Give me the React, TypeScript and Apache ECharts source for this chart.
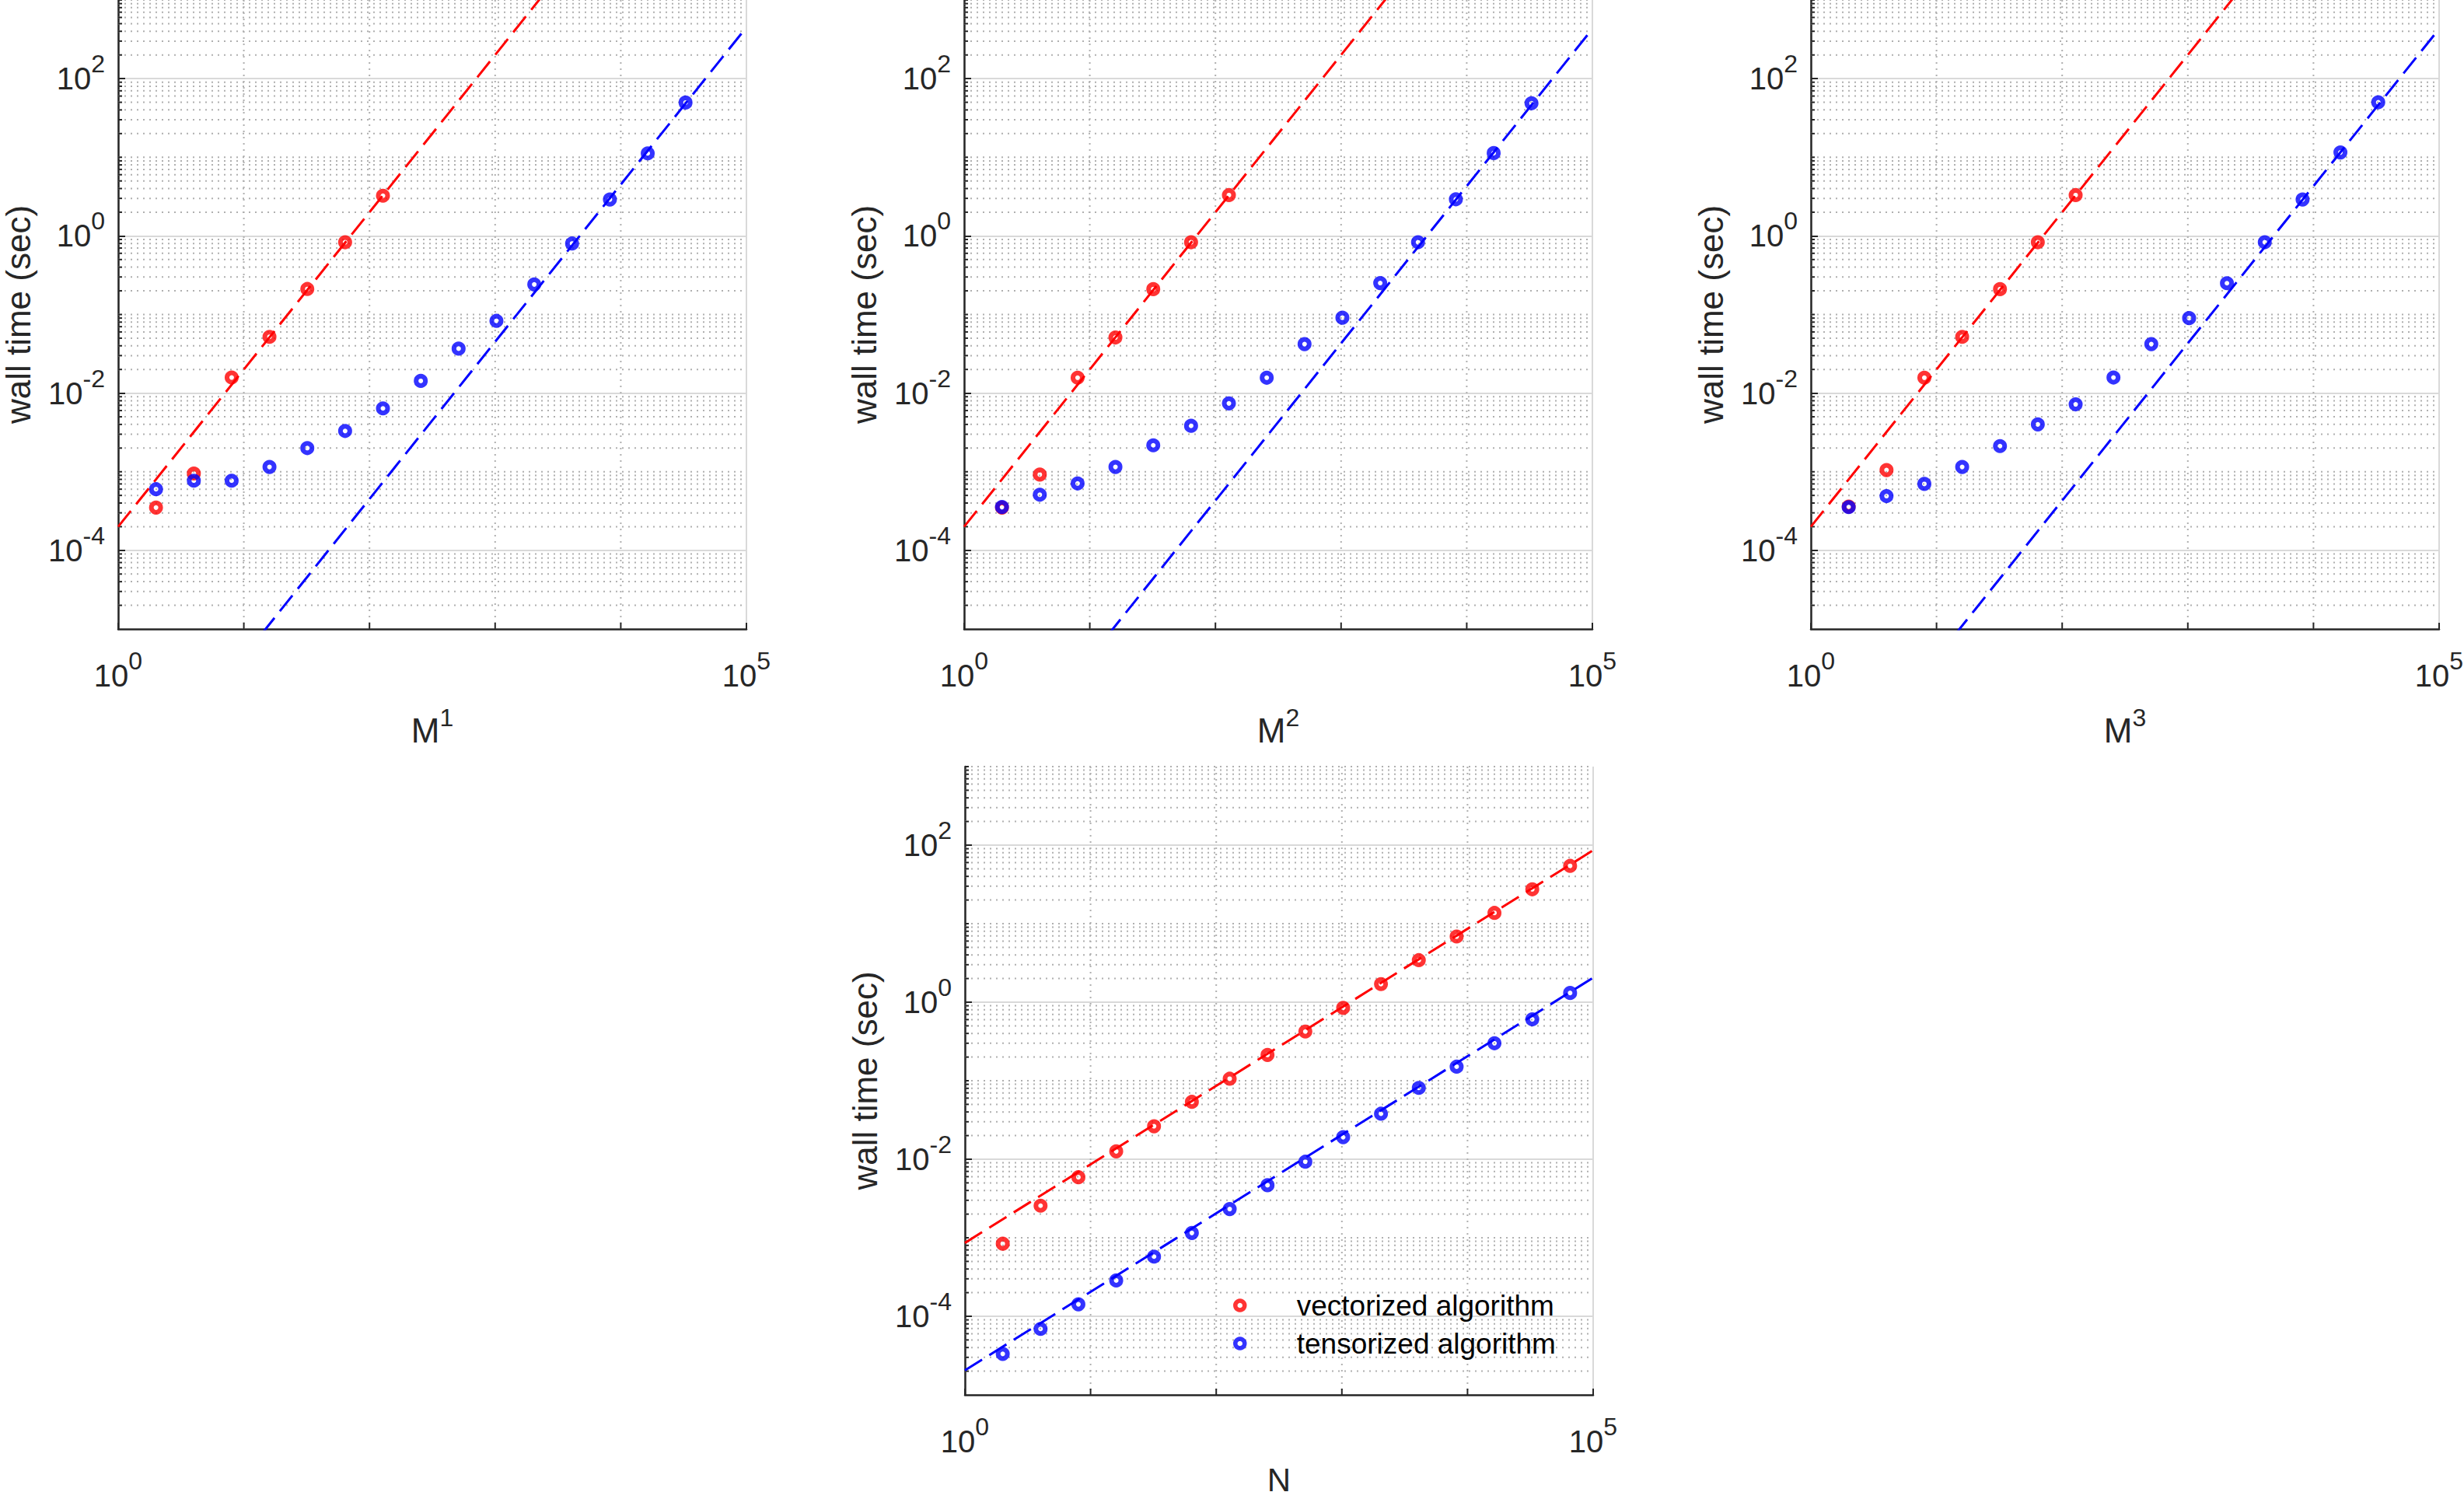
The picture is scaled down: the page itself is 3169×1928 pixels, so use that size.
import React, { useEffect, useRef } from "react";
import * as echarts from "echarts";

const W = 3169;
const H = 1928;

// ---------- data ----------
const xTop = [2, 4, 8, 16, 32, 64, 128, 256, 512, 1024, 2048, 4096, 8192, 16384, 32768];
const xBottom = [2, 4, 8, 16, 32, 64, 128, 256, 512, 1024, 2048, 4096, 8192, 16384, 32768, 65536];

const vecM1 = [3.5e-4, 9.5e-4, 0.0158, 0.052, 0.211, 0.83, 3.24];
const tenM1 = [6.0e-4, 7.7e-4, 7.7e-4, 1.15e-3, 2.0e-3, 3.3e-3, 6.4e-3, 0.0143, 0.0368, 0.083, 0.241, 0.8, 2.9, 11.2, 49.6];
const vecM2 = [3.5e-4, 9.2e-4, 0.0157, 0.051, 0.21, 0.83, 3.3];
const tenM2 = [3.56e-4, 5.1e-4, 7.1e-4, 1.15e-3, 2.17e-3, 3.84e-3, 7.4e-3, 0.0157, 0.042, 0.091, 0.251, 0.83, 2.92, 11.3, 48.6];
const vecM3 = [3.6e-4, 1.05e-3, 0.0157, 0.052, 0.21, 0.83, 3.3];
const tenM3 = [3.55e-4, 4.9e-4, 7.0e-4, 1.15e-3, 2.12e-3, 4.0e-3, 7.2e-3, 0.0158, 0.042, 0.09, 0.25, 0.83, 2.9, 11.5, 50];
const vecN = [8.4e-4, 2.56e-3, 5.9e-3, 0.0126, 0.0263, 0.0538, 0.106, 0.213, 0.423, 0.846, 1.7, 3.43, 6.86, 13.7, 27.4, 54.4];
const tenN = [3.32e-5, 6.9e-5, 1.42e-4, 2.86e-4, 5.75e-4, 1.15e-3, 2.32e-3, 4.67e-3, 9.3e-3, 0.0191, 0.038, 0.081, 0.151, 0.3, 0.605, 1.31];

// fitted dashed lines: values at x = 1 and x = 1e5
const fitX = [1, 100000];
const fitVecM1 = [2.0e-4, 2.0e6];
const fitTenM1 = [4.5e-8, 450];
const fitVecM2 = [2.0e-4, 2.0e6];
const fitTenM2 = [4.3e-8, 430];
const fitVecM3 = [2.0e-4, 2.0e6];
const fitTenM3 = [4.3e-8, 430];
const fitVecN = [8.6e-4, 86];
const fitTenN = [2.05e-5, 2.05];

// ticks
const yTickValues = [1e-4, 1e-2, 1, 100];
const xTickValues = [1, 100000];
const xDecadeValues = [10, 100, 1000, 10000];
const minorDecadeExps = [-5, -4, -3, -2, -1, 0, 1, 2];
const minorMultipliers = [1, 2, 3, 4, 5, 6, 7, 8, 9];
const yTopValue = 1000;

const xNameBase = ["M", "M", "M", "N"];
const xNameSup = ["1", "2", "3", ""];
const yName = "wall time (sec)";
const legendNames = ["vectorized algorithm", "tensorized algorithm"];

// ---------- style ----------
const FONT = "'Liberation Sans', Arial, Helvetica, sans-serif";
const TXT = "#262626";
const AXIS = "#262626";
const MAJOR = "#d9d9d9";
const MINOR = "#b0b0b0";
const RED = "#ff0000";
const BLUE = "#0000ff";

const grids = [
  { left: 152, top: 0, width: 808, height: 809 },
  { left: 1240, top: 0, width: 808, height: 809 },
  { left: 2329, top: 0, width: 808, height: 809 },
  { left: 1241, top: 986, width: 808, height: 808 },
];

const tickRich = {
  b: { fontSize: 40, lineHeight: 70, fontFamily: FONT, color: TXT },
  s: { fontSize: 32, lineHeight: 32, fontFamily: FONT, color: TXT, verticalAlign: "top" },
};
const nameRich = {
  b: { fontSize: 44, lineHeight: 64, fontFamily: FONT, color: TXT },
  s: { fontSize: 32, lineHeight: 32, fontFamily: FONT, color: TXT, verticalAlign: "top" },
};

const expLabel = (v: number) => {
  const e = Math.round(Math.log10(v));
  return `{b|10}{s|${e}}`;
};

// minor grid positions (axis structure, not data)
const yMinorValues: number[] = [];
minorDecadeExps.forEach((e) => {
  minorMultipliers.forEach((m) => {
    if (m === 1 && (e % 2 === 0 || e === -5)) return;
    yMinorValues.push(m * Math.pow(10, e));
  });
});
yMinorValues.push(yTopValue);

const gridItems = [
  ...yMinorValues.map((v) => [1, v, 0]),
  ...xDecadeValues.map((v) => [v, 1, 1]),
];

function renderGrid(params: any, api: any) {
  const cs = params.coordSys;
  const kind = api.value(2);
  if (kind === 0) {
    const y = api.coord([1, api.value(1)])[1];
    return {
      type: "group",
      children: [
        {
          type: "line",
          shape: { x1: cs.x, y1: y, x2: cs.x + cs.width, y2: y },
          style: { stroke: MINOR, lineWidth: 2, lineDash: [2, 6] },
        },
        {
          type: "line",
          shape: { x1: cs.x, y1: y, x2: cs.x + 5, y2: y },
          style: { stroke: AXIS, lineWidth: 2 },
        },
      ],
    };
  }
  const x = api.coord([api.value(0), 1])[0];
  return {
    type: "group",
    children: [
      {
        type: "line",
        shape: { x1: x, y1: cs.y, x2: x, y2: cs.y + cs.height },
        style: { stroke: MINOR, lineWidth: 2, lineDash: [2, 6] },
      },
      {
        type: "line",
        shape: { x1: x, y1: cs.y + cs.height, x2: x, y2: cs.y + cs.height - 8 },
        style: { stroke: AXIS, lineWidth: 2 },
      },
    ],
  };
}

const panels = [
  { xs: xTop, vec: vecM1, ten: tenM1, fv: fitVecM1, ft: fitTenM1 },
  { xs: xTop, vec: vecM2, ten: tenM2, fv: fitVecM2, ft: fitTenM2 },
  { xs: xTop, vec: vecM3, ten: tenM3, fv: fitVecM3, ft: fitTenM3 },
  { xs: xBottom, vec: vecN, ten: tenN, fv: fitVecN, ft: fitTenN },
];

function buildOption() {
  const xAxis = grids.map((_, i) => ({
    type: "log",
    logBase: 10,
    gridIndex: i,
    min: 1,
    max: 100000,
    name: xNameSup[i] ? `{b|${xNameBase[i]}}{s|${xNameSup[i]}}` : xNameBase[i],
    nameLocation: "middle",
    nameGap: xNameSup[i] ? 98 : 89,
    nameTextStyle: xNameSup[i]
      ? { fontSize: 44, fontFamily: FONT, color: TXT, rich: nameRich }
      : { fontSize: 42, lineHeight: 40, fontFamily: FONT, color: TXT },
    axisLine: { show: true, onZero: false, lineStyle: { color: AXIS, width: 2.5 } },
    axisTick: { show: true, inside: true, length: 8, customValues: xTickValues, lineStyle: { color: AXIS, width: 2 } },
    axisLabel: { show: true, customValues: xTickValues, formatter: expLabel, margin: 25, rich: tickRich },
    splitLine: { show: true, lineStyle: { color: MAJOR, width: 2 } },
    minorTick: { show: false },
    minorSplitLine: { show: false },
  }));
  const yAxis = grids.map((_, i) => ({
    type: "log",
    logBase: 10,
    gridIndex: i,
    min: 1e-5,
    max: 1000,
    name: yName,
    nameLocation: "middle",
    nameRotate: 90,
    nameGap: 107,
    nameTextStyle: { fontSize: 44, fontFamily: FONT, color: TXT },
    axisLine: { show: true, onZero: false, lineStyle: { color: AXIS, width: 2.5 } },
    axisTick: { show: true, inside: true, length: 9, customValues: yTickValues, lineStyle: { color: AXIS, width: 2 } },
    axisLabel: { show: true, customValues: yTickValues, formatter: expLabel, margin: 17, rich: tickRich },
    splitLine: { show: true, lineStyle: { color: MAJOR, width: 2 } },
    minorTick: { show: false },
    minorSplitLine: { show: false },
  }));

  const series: any[] = [];
  panels.forEach((p, i) => {
    series.push({
      type: "custom",
      xAxisIndex: i,
      yAxisIndex: i,
      silent: true,
      z: 1,
      renderItem: renderGrid,
      data: gridItems,
    });
    series.push({
      type: "line",
      name: `fit vec ${i}`,
      xAxisIndex: i,
      yAxisIndex: i,
      data: fitX.map((x, k) => [x, p.fv[k]]),
      showSymbol: false,
      silent: true,
      clip: true,
      z: 4,
      lineStyle: { color: RED, width: 3, type: [26, 11] },
    });
    series.push({
      type: "line",
      name: `fit ten ${i}`,
      xAxisIndex: i,
      yAxisIndex: i,
      data: fitX.map((x, k) => [x, p.ft[k]]),
      showSymbol: false,
      silent: true,
      clip: true,
      z: 4,
      lineStyle: { color: BLUE, width: 3, type: [26, 11] },
    });
    series.push({
      type: "scatter",
      name: i === 3 ? legendNames[0] : `vec ${i}`,
      xAxisIndex: i,
      yAxisIndex: i,
      data: p.vec.map((v, k) => [p.xs[k], v]),
      symbol: "circle",
      symbolSize: 12,
      silent: true,
      z: 3,
      itemStyle: { color: "rgba(0,0,0,0)", borderColor: RED, borderWidth: 6 },
    });
    series.push({
      type: "scatter",
      name: i === 3 ? legendNames[1] : `ten ${i}`,
      xAxisIndex: i,
      yAxisIndex: i,
      data: p.ten.map((v, k) => [p.xs[k], v]),
      symbol: "circle",
      symbolSize: 12,
      silent: true,
      z: 3,
      itemStyle: { color: "rgba(0,0,0,0)", borderColor: BLUE, borderWidth: 6 },
    });
  });

  return {
    animation: false,
    backgroundColor: "#ffffff",
    textStyle: { fontFamily: FONT },
    grid: grids.map((g) => ({ ...g, containLabel: false, outerBoundsMode: "none" })),
    xAxis,
    yAxis,
    legend: {
      orient: "vertical",
      left: 1586,
      top: 1659,
      padding: 0,
      itemGap: 9,
      itemWidth: 12,
      itemHeight: 12,
      selectedMode: false,
      textStyle: { fontSize: 37, fontFamily: FONT, color: "#000000", padding: [0, 0, 0, 62], lineHeight: 40 },
      data: [
        { name: legendNames[0], icon: "circle", itemStyle: { color: "rgba(0,0,0,0)", borderColor: RED, borderWidth: 5.5 } },
        { name: legendNames[1], icon: "circle", itemStyle: { color: "rgba(0,0,0,0)", borderColor: BLUE, borderWidth: 5.5 } },
      ],
    },
    series,
  };
}

export default function App() {
  const ref = useRef<HTMLDivElement>(null);
  useEffect(() => {
    if (!ref.current) return;
    const chart = echarts.init(ref.current, null, { renderer: "svg", width: W, height: H });
    chart.setOption(buildOption() as any);
    return () => chart.dispose();
  }, []);
  return (
    <div
      ref={ref}
      style={{ position: "absolute", left: 0, top: 0, width: W, height: H, background: "#ffffff" }}
    />
  );
}
